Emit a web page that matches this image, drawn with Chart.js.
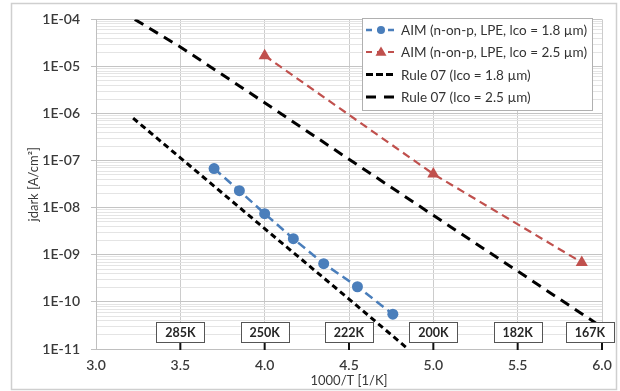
<!DOCTYPE html>
<html><head><meta charset="utf-8">
<script src="https://cdn.jsdelivr.net/npm/chart.js@4.4.0/dist/chart.umd.min.js"></script>
<style>html,body{margin:0;padding:0;background:#fff;overflow:hidden}</style>
</head><body>
<canvas id="c" width="620" height="391"></canvas>
<script>
// ---- data ----
const aim18X = [3.70, 3.85, 4.00, 4.17, 4.35, 4.55, 4.76];
const aim18Y = [6.8e-8, 2.3e-8, 7.5e-9, 2.2e-9, 6.5e-10, 2.1e-10, 5.5e-11];
const aim25X = [4.00, 5.00, 5.88];
const aim25Y = [1.7e-5, 5.2e-8, 6.9e-10];
const rule18X = [3.22, 3.50, 4.00, 4.50, 4.85];
const rule18Y = [8.0e-7, 1.15e-7, 3.6e-9, 1.15e-10, 1.0e-11];
const rule25X = [3.23, 3.50, 4.00, 4.50, 5.00, 5.50, 6.00];
const rule25Y = [1.0e-4, 2.6e-5, 1.7e-6, 1.07e-7, 6.9e-9, 4.5e-10, 2.9e-11];
const seriesLabels = [
  'AIM (n-on-p, LPE, lco = 1.8 \u00b5m)',
  'AIM (n-on-p, LPE, lco = 2.5 \u00b5m)',
  'Rule 07 (lco = 1.8 \u00b5m)',
  'Rule 07 (lco = 2.5 \u00b5m)'
];
const tempPos = [3.5, 4.0, 4.5, 5.0, 5.5, 6.0];
const tempLabels = ['285K', '250K', '222K', '200K', '182K', '167K'];
const yExponents = [-11, -10, -9, -8, -7, -6, -5, -4];
const yTickLabels = ['1E-11', '1E-10', '1E-09', '1E-08', '1E-07', '1E-06', '1E-05', '1E-04'];
const xTitle = '1000/T [1/K]';
const yTitle = 'jdark [A/cm\u00b2]';

const FONT = 'Lato, "Open Sans", sans-serif';
const pts = (xs, ys) => xs.map((x, i) => ({x: x, y: ys[i]}));
const isDecade = v => Math.abs(Math.log10(v) - Math.round(Math.log10(v))) < 1e-6;

const framePlugin = {
  id: 'framePlugin',
  beforeDraw(chart) {
    const ctx = chart.ctx;
    ctx.save();
    ctx.fillStyle = '#fff';
    ctx.fillRect(0, 0, chart.width, chart.height);
    ctx.restore();
  },
  afterDraw(chart) {
    const ctx = chart.ctx;
    ctx.save();
    ctx.strokeStyle = '#cfcfcf';
    ctx.lineWidth = 1.5;
    ctx.strokeRect(11.5, 3.5, 605, 386);
    ctx.restore();
  }
};

const tempPlugin = {
  id: 'tempPlugin',
  afterDatasetsDraw(chart) {
    const ctx = chart.ctx, xs = chart.scales.x, area = chart.chartArea;
    ctx.save();
    const w = 48, h = 20, top = area.bottom - 27;
    tempPos.forEach((v, i) => {
      const px = xs.getPixelForValue(v);
      let left = px - w / 2;
      if (left + w > 614) left = 614 - w;
      ctx.fillStyle = '#fff';
      ctx.fillRect(left, top, w, h);
      ctx.strokeStyle = '#555';
      ctx.lineWidth = 1;
      ctx.strokeRect(Math.round(left) + 0.5, Math.round(top) + 0.5, w, h);
      ctx.strokeStyle = '#111';
      ctx.lineWidth = 2;
      ctx.beginPath();
      ctx.moveTo(px, top + h + 1);
      ctx.lineTo(px, area.bottom + 1);
      ctx.stroke();
      ctx.fillStyle = '#262626';
      ctx.font = 'bold 12.5px ' + FONT;
      ctx.textAlign = 'center';
      ctx.textBaseline = 'middle';
      ctx.fillText(tempLabels[i], left + w / 2, top + h / 2 + 1);
    });
    ctx.restore();
  }
};

const legendPlugin = {
  id: 'legendPlugin',
  afterDraw(chart) {
    const ctx = chart.ctx;
    ctx.save();
    const bx = 362, by = 18, bw = 230, bh = 92;
    ctx.fillStyle = '#fff';
    ctx.fillRect(bx, by, bw, bh);
    ctx.strokeStyle = '#b0b0b0';
    ctx.lineWidth = 1;
    ctx.strokeRect(bx + 0.5, by + 0.5, bw, bh);
    const rows = [30, 52, 74.5, 97];
    chart.data.datasets.forEach((ds, i) => {
      const y = rows[i];
      ctx.strokeStyle = ds.borderColor;
      ctx.lineWidth = ds.borderWidth;
      ctx.setLineDash(ds.legendDash || ds.borderDash || []);
      ctx.beginPath();
      ctx.moveTo(366, y);
      ctx.lineTo(396, y);
      ctx.stroke();
      ctx.setLineDash([]);
      if (ds.pointRadius > 0) {
        ctx.fillStyle = ds.backgroundColor;
        ctx.beginPath();
        if (ds.pointStyle === 'triangle') {
          const r = 5.5;
          ctx.moveTo(381, y - r);
          ctx.lineTo(381 + r, y + r * 0.7);
          ctx.lineTo(381 - r, y + r * 0.7);
          ctx.closePath();
        } else {
          ctx.arc(381, y, 4, 0, Math.PI * 2);
        }
        ctx.fill();
      }
      ctx.fillStyle = '#333';
      ctx.font = '13.5px ' + FONT;
      ctx.textAlign = 'left';
      ctx.textBaseline = 'middle';
      ctx.fillText(ds.label, 401, y + 1);
    });
    ctx.restore();
  }
};

new Chart(document.getElementById('c'), {
  type: 'line',
  data: {
    datasets: [
      {
        label: seriesLabels[0], data: pts(aim18X, aim18Y),
        borderColor: '#4a7ebb', backgroundColor: '#4a7ebb',
        borderWidth: 2.5, borderDash: [9, 5], legendDash: [6, 5],
        pointStyle: 'circle', pointRadius: 5.5, pointBorderWidth: 0, tension: 0
      },
      {
        label: seriesLabels[1], data: pts(aim25X, aim25Y),
        borderColor: '#c0504d', backgroundColor: '#c0504d',
        borderWidth: 2.2, borderDash: [8, 5], legendDash: [6, 5],
        pointStyle: 'triangle', pointRadius: 7, pointBorderWidth: 0, tension: 0
      },
      {
        label: seriesLabels[2], data: pts(rule18X, rule18Y),
        borderColor: '#000', backgroundColor: '#000',
        borderWidth: 3, borderDash: [6, 4], legendDash: [7, 3],
        pointRadius: 0, tension: 0
      },
      {
        label: seriesLabels[3], data: pts(rule25X, rule25Y),
        borderColor: '#000', backgroundColor: '#000',
        borderWidth: 3, borderDash: [10, 7], legendDash: [10, 8],
        pointRadius: 0, tension: 0
      }
    ]
  },
  options: {
    responsive: false,
    animation: false,
    devicePixelRatio: 1,
    layout: {padding: {left: 0, top: 15, right: 18, bottom: 0}},
    plugins: {legend: {display: false}, tooltip: {enabled: false}},
    scales: {
      x: {
        type: 'linear', min: 3, max: 6,
        afterFit: s => { s.height = 42; },
        ticks: {
          stepSize: 0.5, padding: 8, color: '#3a3a3a',
          font: {family: FONT, size: 14, weight: 600},
          callback: v => v.toFixed(1)
        },
        grid: {color: '#cccccc', lineWidth: 1, drawTicks: false},
        border: {color: '#bfbfbf'},
        title: {display: true, text: xTitle, color: '#3a3a3a', font: {family: FONT, size: 13}, padding: {top: 0, bottom: 2}}
      },
      y: {
        type: 'logarithmic', min: 1e-11, max: 1e-4,
        afterFit: s => { s.width = 96; },
        afterBuildTicks: s => {
          const t = [];
          yExponents.forEach((e, k) => {
            t.push({value: Math.pow(10, e)});
            if (k < yExponents.length - 1) {
              for (let m = 2; m <= 9; m++) t.push({value: m * Math.pow(10, e)});
            }
          });
          s.ticks = t;
        },
        ticks: {
          autoSkip: false, padding: 11, color: '#3a3a3a',
          font: {family: FONT, size: 14, weight: 600},
          callback: v => {
            if (!isDecade(v)) return '';
            const idx = yExponents.indexOf(Math.round(Math.log10(v)));
            return idx >= 0 ? yTickLabels[idx] : '';
          }
        },
        grid: {
          tickLength: 5,
          color: c => (c.tick && isDecade(c.tick.value)) ? '#c4c4c4' : '#e4e4e4',
          tickColor: c => (c.tick && isDecade(c.tick.value)) ? '#bfbfbf' : 'rgba(0,0,0,0)'
        },
        border: {color: '#bfbfbf'},
        title: {display: true, text: yTitle, color: '#3a3a3a', font: {family: FONT, size: 13}, padding: {top: 26, bottom: 0}}
      }
    }
  },
  plugins: [framePlugin, tempPlugin, legendPlugin]
});
</script>
</body></html>
